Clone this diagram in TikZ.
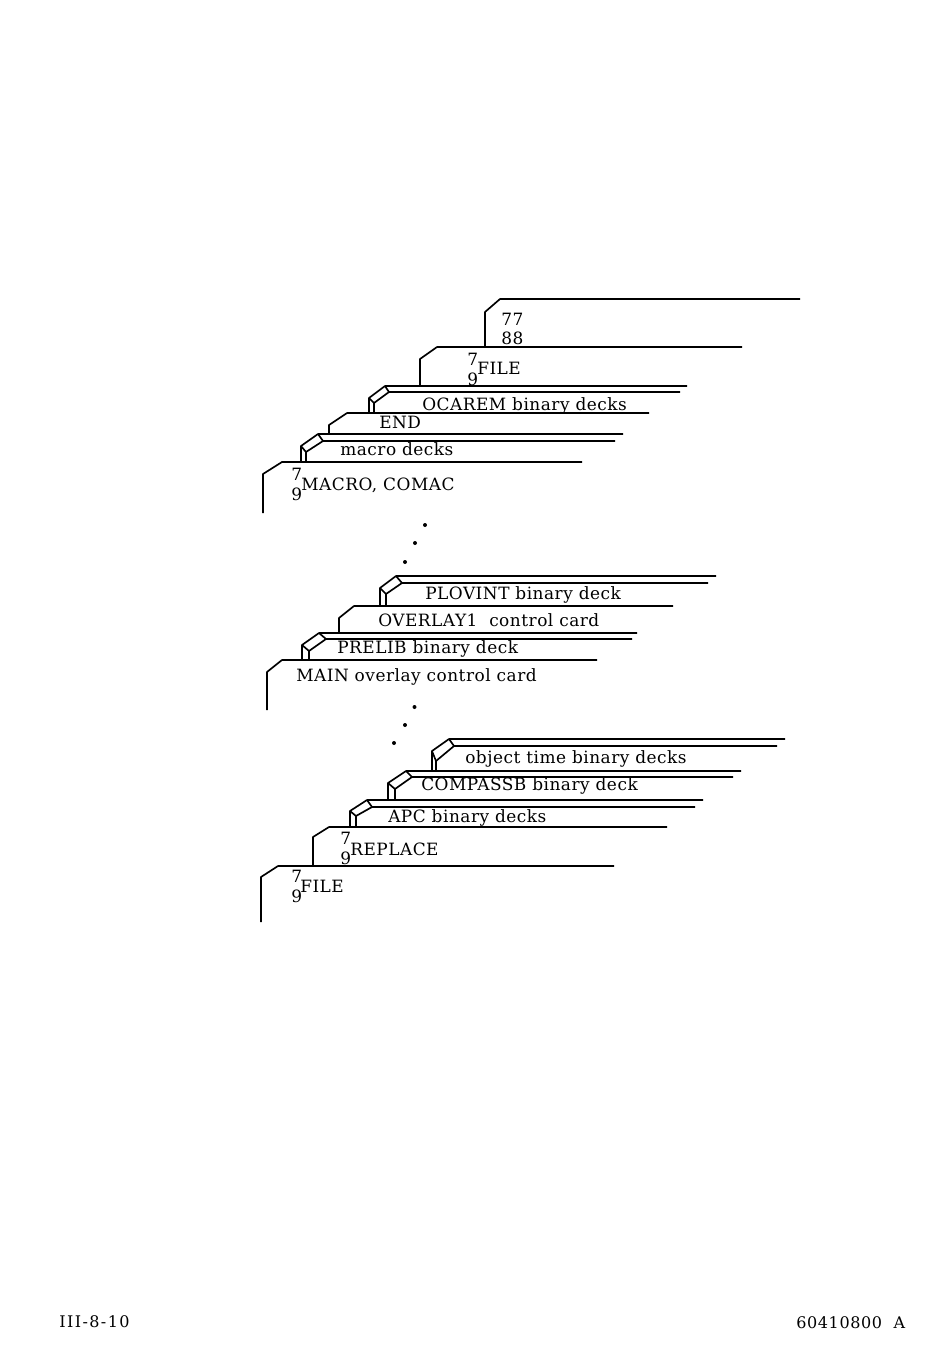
\documentclass[tikz,border=0pt]{standalone}
\usepackage{fontspec}
\newfontfamily\labelfont[LetterSpace=3]{DejaVu Serif}
\newfontfamily\footfont[LetterSpace=4]{DejaVu Serif}
\newfontfamily\pagefont[LetterSpace=9]{DejaVu Serif}
\tikzset{
	card/.style={line width=1.25pt,line join=round},
	lbl/.style={anchor=base west,inner sep=0pt,font=\labelfont\fontsize{12.7}{15}\selectfont},
	foot/.style={anchor=base west,inner sep=0pt,font=\footfont\fontsize{12}{14}\selectfont},
	page foot/.style={anchor=base west,inner sep=0pt,font=\pagefont\fontsize{12}{14}\selectfont},
	spot/.style={circle,fill=black,inner sep=0pt,minimum size=3pt}
}

\begin{document}
\begin{tikzpicture}[x=0.75pt,y=-0.75pt]

	\useasboundingbox (0,0) rectangle (950,1361);

	% top group
	\draw [card] (485,347)--(485,312)--(500,299)--(800,299);
	\node [lbl] (seven seven) at (501,325) {77};
	\node [lbl] (eight eight) at (501,344) {88};

	\draw [card] (420,386)--(420,359)--(437,347)--(742,347);
	\node [lbl] (file top a) at (467,365) {7};
	\node [lbl] (file top b) at (467,385) {9};
	\node [lbl] (file top) at (477,374) {FILE};

	\draw [card] (369,413)--(369,398)--(385,386)--(687,386);
	\draw [card] (374,413)--(374,403)--(389,392)--(680,392);
	\draw [card] (369,398)--(374,403);
	\draw [card] (385,386)--(389,392);
	\node [lbl] (ocarem) at (422,410) {OCAREM binary decks};

	\draw [card] (329,434)--(329,425)--(347,413)--(649,413);
	\node [lbl] (end card) at (379,428) {END};

	\draw [card] (301,462)--(301,446)--(318,434)--(623,434);
	\draw [card] (306,462)--(306,452)--(323,441)--(615,441);
	\draw [card] (301,446)--(306,452);
	\draw [card] (318,434)--(323,441);
	\node [lbl] (macro decks) at (340,455) {macro decks};

	\draw [card] (263,513)--(263,474)--(282,462)--(582,462);
	\node [lbl] (macro a) at (291,480) {7};
	\node [lbl] (macro b) at (291,500) {9};
	\node [lbl] (macro card) at (301,490) {MACRO, COMAC};

	\node [spot] (dot a) at (425,525) {};
	\node [spot] (dot b) at (415,543) {};
	\node [spot] (dot c) at (405,562) {};

	% middle group
	\draw [card] (380,606)--(380,588)--(396,576)--(716,576);
	\draw [card] (386,606)--(386,594)--(402,583)--(708,583);
	\draw [card] (380,588)--(386,594);
	\draw [card] (396,576)--(402,583);
	\node [lbl] (plovint) at (425,599) {PLOVINT binary deck};

	\draw [card] (339,633)--(339,618)--(354,606)--(673,606);
	\node [lbl] (overlay) at (378,626) {OVERLAY1\ \ control card};

	\draw [card] (302,660)--(302,645)--(319,633)--(637,633);
	\draw [card] (309,660)--(309,651)--(326,639)--(632,639);
	\draw [card] (302,645)--(309,651);
	\draw [card] (319,633)--(326,639);
	\node [lbl] (prelib) at (337,653) {PRELIB binary deck};

	\draw [card] (267,710)--(267,672)--(282,660)--(597,660);
	\node [lbl] (main card) at (296,681) {MAIN overlay control card};

	\node [spot] (dot d) at (414.5,707) {};
	\node [spot] (dot e) at (405,725) {};
	\node [spot] (dot f) at (394,743) {};

	% bottom group
	\draw [card] (432,771)--(432,751)--(449,739)--(785,739);
	\draw [card] (436,771)--(436,761)--(454,746)--(777,746);
	\draw [card] (432,751)--(436,761);
	\draw [card] (449,739)--(454,746);
	\node [lbl] (object decks) at (465,763) {object time binary decks};

	\draw [card] (388,800)--(388,783)--(406,771)--(741,771);
	\draw [card] (395,800)--(395,789)--(412,777)--(733,777);
	\draw [card] (388,783)--(395,789);
	\draw [card] (406,771)--(412,777);
	\node [lbl] (compassb) at (421,790) {COMPASSB binary deck};

	\draw [card] (350,827)--(350,811)--(367,800)--(703,800);
	\draw [card] (356,827)--(356,816)--(372,807)--(695,807);
	\draw [card] (350,811)--(356,816);
	\draw [card] (367,800)--(372,807);
	\node [lbl] (apc) at (388,822) {APC binary decks};

	\draw [card] (313,866)--(313,837)--(329,827)--(667,827);
	\node [lbl] (replace a) at (340,844) {7};
	\node [lbl] (replace b) at (340,864) {9};
	\node [lbl] (replace card) at (350,855) {REPLACE};

	\draw [card] (261,922)--(261,877)--(278,866)--(614,866);
	\node [lbl] (file a) at (291,882) {7};
	\node [lbl] (file b) at (291,902) {9};
	\node [lbl] (file card) at (300,892) {FILE};

	% page foot
	\node [page foot] (page number) at (59,1327) {III-8-10};
	\node [foot] (doc number) at (796,1328) {60410800\ \ A};

\end{tikzpicture}
\end{document}
